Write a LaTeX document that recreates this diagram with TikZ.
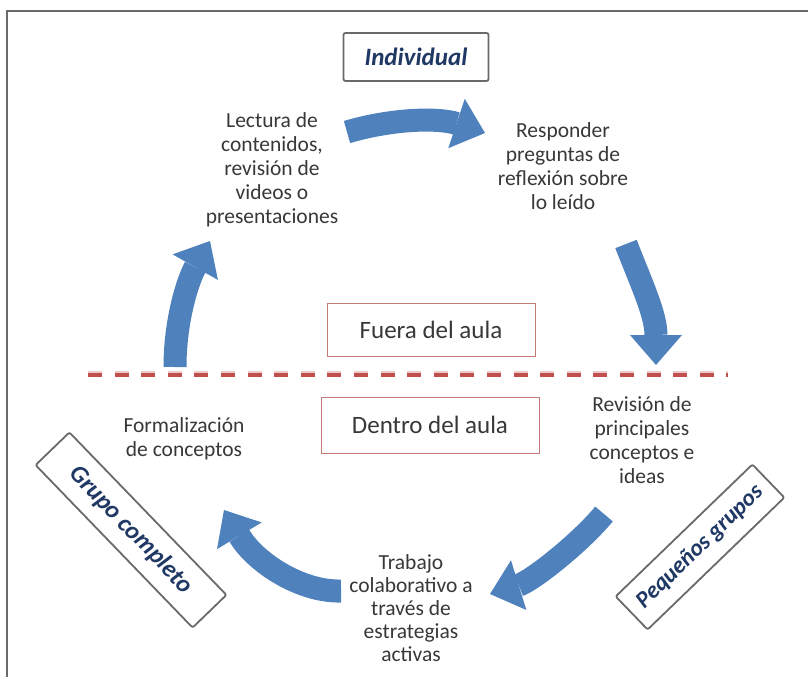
\documentclass[tikz,border=0pt]{standalone}
\usepackage{fontspec}
\setmainfont{Carlito}
\usetikzlibrary{arrows.meta}
\definecolor{arrowblue}{HTML}{4F81BD}
\definecolor{textgray}{HTML}{383838}
\definecolor{labelblue}{HTML}{1F3864}
\definecolor{framegray}{HTML}{6A6A6A}
\definecolor{linered}{HTML}{C0504D}
\definecolor{placered}{HTML}{C47A77}
\begin{document}
\begin{tikzpicture}[x=1pt,y=-1pt,
  blockarrow/.style={draw=arrowblue, line width=23pt, line cap=butt,
    -{Triangle[width=52pt,length=30pt,line width=0pt]}},
  steptext/.style={align=center, text=textgray, inner sep=0pt,
    font=\fontsize{21.5}{24}\selectfont},
  labelbox/.style={draw=framegray, line width=1.8pt, rounded corners=2pt,
    text=labelblue, inner sep=0pt, font=\fontsize{25}{28}\selectfont\bfseries\itshape},
  placebox/.style={draw=placered, line width=1pt, text=textgray, inner sep=0pt,
    font=\fontsize{25}{28}\selectfont}
]
\useasboundingbox (0,0) rectangle (808,677);
\fill[white] (0,0) rectangle (808,677);
% outer frame (open on right and bottom)
\draw[framegray, line width=2.5pt] (808,11) -- (7,11) -- (7,677);

% labels
\node[labelbox, minimum width=145pt, minimum height=48pt] (indiv) at (416,57) {Individual};
\node[labelbox, minimum width=226pt, minimum height=47pt, rotate=-46] (grupo) at (131,530) {Grupo completo};
\node[labelbox, minimum width=190pt, minimum height=46pt, rotate=44,
  font=\fontsize{23.5}{27}\selectfont\bfseries\itshape] (peq) at (700,547) {Pequeños grupos};

% place boxes
\node[placebox, minimum width=208pt, minimum height=53pt] (fuera) at (431,330) {Fuera del aula};
\node[placebox, minimum width=218pt, minimum height=56pt] (dentro) at (430,425) {Dentro del aula};

% dashed divider
\coordinate (dl) at (88,375);
\coordinate (dr) at (728,375);
\draw[linered!30, line width=4pt, dash pattern=on 14pt off 12.6pt] ([yshift=2pt]dl) -- ([yshift=2pt]dr);
\draw[linered, line width=4pt, dash pattern=on 14pt off 12.6pt] (dl) -- (dr);

% step texts
\node[steptext] (lectura) at (272,170) {Lectura de\\contenidos,\\revisión de\\videos o\\presentaciones};
\node[steptext] (responder) at (563,166) {Responder\\preguntas de\\reflexión sobre\\lo leído};
\node[steptext] (revision) at (642,440) {Revisión de\\principales\\conceptos e\\ideas};
\node[steptext] (formal) at (184,439) {Formalización\\de conceptos};
\node[steptext, font=\fontsize{21.5}{23}\selectfont] (trabajo) at (411,608) {Trabajo\\colaborativo a\\través de\\estrategias\\activas};

% arrow end points
\coordinate (a1s) at (347,132);
\coordinate (a1e) at (485,133);
\coordinate (a2s) at (626,244);
\coordinate (a2e) at (656,365);
\coordinate (a3s) at (175,367);
\coordinate (a3e) at (210,241);
\coordinate (a4s) at (604,514);
\coordinate (a4e) at (490,594);
\coordinate (a5s) at (341,591);
\coordinate (a5e) at (224,510);

\draw[blockarrow] (a1s) .. controls (395,118) and (440,118) .. (a1e);
\draw[blockarrow] (a2s) .. controls (642,285) and (656,315) .. (a2e);
\draw[blockarrow] (a3s) .. controls (175,320) and (188,280) .. (a3e);
\draw[blockarrow] (a4s) .. controls (580,543) and (532,581) .. (a4e);
\draw[blockarrow] (a5s) .. controls (300,592) and (255,562) .. (a5e);
\end{tikzpicture}
\end{document}
